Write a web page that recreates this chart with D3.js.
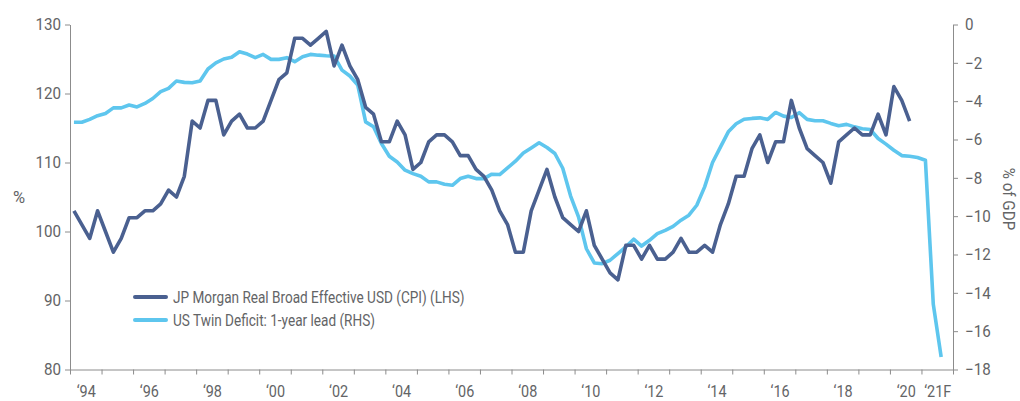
<!DOCTYPE html>
<html>
<head>
<meta charset="utf-8">
<script src="https://cdn.jsdelivr.net/npm/d3@7"></script>
<style>
  body { margin: 0; background: #fff; }
  svg { display: block; }
  .axis path, .axis line { stroke: #8c8c8c; }
  .axis text, .label, .legend text {
    font-family: "Roboto", "Liberation Sans", sans-serif;
    fill: #636466;
  }
</style>
</head>
<body>
<svg id="chart" width="1020" height="401"></svg>
<script>
// quarterly values, first point is 1994 Q1
var startYear = 1994;

// JP Morgan Real Broad Effective USD (CPI), LHS, %
var usd = [103, 101, 99, 103, 100, 97, 99, 102, 102, 103, 103, 104, 106, 105, 108, 116,
  115, 119, 119, 114, 116, 117, 115, 115, 116, 119, 122, 123, 128, 128, 127, 128,
  129, 124, 127, 124, 122, 118, 117, 113, 113, 116, 114, 109, 110, 113, 114, 114,
  113, 111, 111, 109, 108, 106, 103, 101, 97, 97, 103, 106, 109, 105, 102, 101,
  100, 103, 98, 96, 94, 93, 98, 98, 96, 98, 96, 96, 97, 99, 97, 97,
  98, 97, 101, 104, 108, 108, 112, 114, 110, 113, 113, 119, 115, 112, 111, 110,
  107, 113, 114, 115, 114, 114, 117, 114, 121, 119, 116];

// US twin deficit, 1-year lead, RHS, % of GDP
var deficit = [-5.1, -5.1, -4.95, -4.76, -4.64, -4.35, -4.35, -4.2, -4.3, -4.12, -3.86, -3.5,
  -3.33, -2.95, -3.02, -3.04, -2.95, -2.32, -2.0, -1.8, -1.71, -1.42, -1.54, -1.73,
  -1.56, -1.82, -1.82, -1.73, -1.94, -1.68, -1.56, -1.6, -1.63, -1.65, -2.38, -2.69,
  -3.16, -5.08, -5.34, -6.21, -6.87, -7.17, -7.6, -7.78, -7.92, -8.21, -8.21, -8.33,
  -8.39, -8.04, -7.92, -8.04, -8.04, -7.81, -7.83, -7.48, -7.13, -6.7, -6.44, -6.17,
  -6.42, -6.73, -7.5, -8.95, -10.04, -11.7, -12.44, -12.48, -12.3, -11.95, -11.6, -11.2,
  -11.56, -11.26, -10.91, -10.74, -10.53, -10.21, -9.95, -9.43, -8.47, -7.2, -6.4, -5.6,
  -5.18, -4.94, -4.9, -4.87, -4.95, -4.59, -4.78, -4.85, -4.6, -4.95, -5.02, -5.02,
  -5.16, -5.28, -5.21, -5.34, -5.44, -5.48, -5.95, -6.24, -6.56, -6.84, -6.87, -6.94,
  -7.08, -14.6, -17.35];

var leftTicks = [80, 90, 100, 110, 120, 130];
var rightTicks = [0, -2, -4, -6, -8, -10, -12, -14, -16, -18];
var yearLabels = [1994, 1996, 1998, 2000, 2002, 2004, 2006, 2008, 2010, 2012, 2014, 2016, 2018, 2020, 2021];
var seriesNames = ["JP Morgan Real Broad Effective USD (CPI) (LHS)", "US Twin Deficit: 1-year lead (RHS)"];
var colors = ["#4a6090", "#5ec6ee"];

var svg = d3.select("#chart");

var plot = {left: 70, right: 953, top: 24.5, bottom: 369.5};

var x = d3.scaleLinear().domain([1994, 2022]).range([plot.left, plot.right]);
var yLeft = d3.scaleLinear().domain([80, 130]).range([plot.bottom, plot.top]);
var yRight = d3.scaleLinear().domain([-18, 0]).range([plot.bottom, plot.top]);

function qx(i) { return x(startYear + (i + 0.5) / 4); }

// narrow the glyphs a bit, the original uses a condensed face
function squeeze(sel, k) {
  sel.each(function() {
    var t = d3.select(this);
    var bx = +t.attr("x") || 0;
    t.attr("transform", "translate(" + bx + ",0) scale(" + k + ",1) translate(" + (-bx) + ",0)");
  });
}

// x axis: ticks at every year boundary, labels in the middle of the year
svg.append("g")
  .attr("class", "axis")
  .attr("transform", "translate(0," + plot.bottom + ")")
  .call(d3.axisBottom(x).tickValues(d3.range(1994, 2023)).tickSize(5).tickSizeOuter(0).tickFormat(""));

svg.append("g")
  .attr("class", "axis")
  .attr("transform", "translate(0," + plot.bottom + ")")
  .call(d3.axisBottom(x).tickValues(yearLabels.map(d => d + 0.5)).tickSize(0).tickPadding(16)
    .tickFormat(d => "\u2018" + String(Math.floor(d)).slice(2) + (Math.floor(d) === 2021 ? "F" : "")))
  .call(g => g.select(".domain").remove())
  .selectAll("text").style("font-size", "16px").call(squeeze, 0.9);

// left axis
svg.append("g")
  .attr("class", "axis")
  .attr("transform", "translate(" + plot.left + ",0)")
  .call(d3.axisLeft(yLeft).tickValues(leftTicks).tickSize(5).tickSizeOuter(0).tickPadding(4))
  .selectAll("text").style("font-size", "16.5px").call(squeeze, 0.92);

// right axis
svg.append("g")
  .attr("class", "axis")
  .attr("transform", "translate(" + plot.right + ",0)")
  .call(d3.axisRight(yRight).tickValues(rightTicks).tickSize(5).tickSizeOuter(0).tickPadding(7))
  .selectAll("text").style("font-size", "16.5px").call(squeeze, 0.92);

// axis titles
svg.append("text").attr("class", "label")
  .attr("x", 19).attr("y", 203)
  .attr("text-anchor", "middle")
  .style("font-size", "16.5px")
  .text("%");

svg.append("text").attr("class", "label")
  .attr("transform", "translate(1003,199) rotate(90) scale(0.92,1)")
  .attr("text-anchor", "middle")
  .style("font-size", "16.5px")
  .text("% of GDP");

// lines
var lineLeft = d3.line().x((d, i) => qx(i)).y(d => yLeft(d));
var lineRight = d3.line().x((d, i) => qx(i)).y(d => yRight(d));

svg.append("path")
  .datum(deficit)
  .attr("fill", "none")
  .attr("stroke", colors[1])
  .attr("stroke-width", 3.6)
  .attr("stroke-linejoin", "round")
  .attr("d", lineRight);

svg.append("path")
  .datum(usd)
  .attr("fill", "none")
  .attr("stroke", colors[0])
  .attr("stroke-width", 3.6)
  .attr("stroke-linejoin", "round")
  .attr("d", lineLeft);

// legend
var legend = svg.append("g").attr("class", "legend");
seriesNames.forEach(function(name, i) {
  var ly = 297 + i * 23;
  legend.append("line")
    .attr("x1", 135).attr("x2", 166)
    .attr("y1", ly).attr("y2", ly)
    .attr("stroke", colors[i])
    .attr("stroke-width", 4)
    .attr("stroke-linecap", "round");
  legend.append("text")
    .attr("x", 173).attr("y", ly + 6)
    .style("font-size", "16px")
    .text(name)
    .call(squeeze, 0.85);
});
</script>
</body>
</html>
